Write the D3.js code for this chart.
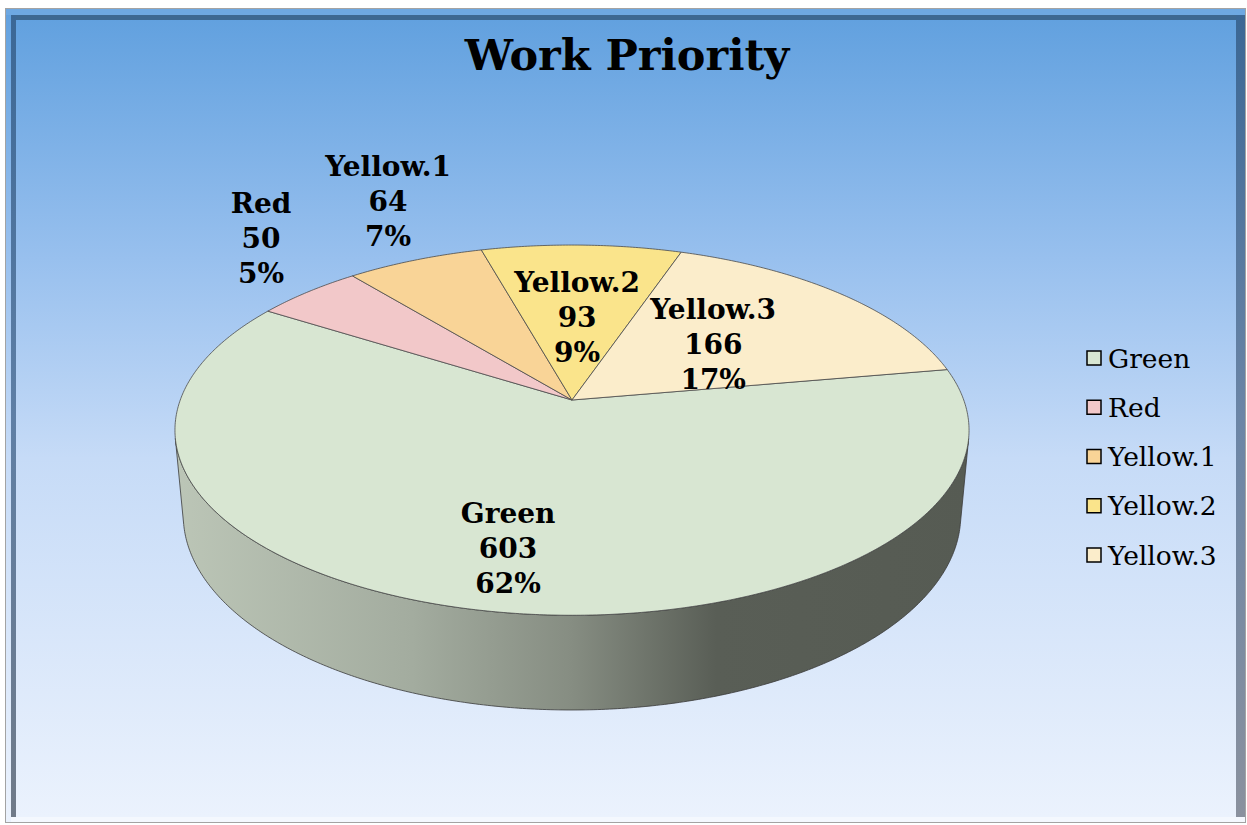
<!DOCTYPE html>
<html>
<head>
<meta charset="utf-8">
<script src="https://cdn.jsdelivr.net/npm/d3@7"></script>
<style>
  body { margin: 0; background: #fff; }
  text { font-family: "DejaVu Serif", "Liberation Serif", serif; }
</style>
</head>
<body>
<div id="chart"></div>
<script>
// Chart data
const categories = ["Green", "Red", "Yellow.1", "Yellow.2", "Yellow.3"];
const values = [603, 50, 64, 93, 166];
const percentLabels = ["62%", "5%", "7%", "9%", "17%"];
const palette = ["#d8e6d2", "#f2c8c9", "#f9d497", "#fae48b", "#fbedcb"];

const W = 1247, H = 825;
const color = d3.scaleOrdinal(categories, palette);

// 3D pie projection settings
const cx = 572, cy = 400;          // screen position of pie centre (top face)
const focal = 2135, camDist = 5.45; // perspective
const sinT = 0.46, cosT = Math.sqrt(1 - sinT * sinT);
const depthH = 0.2465;              // thickness relative to radius
const startDeg = 80;

function proj(a, k, z) {
  const X = k * Math.sin(a), Y = k * Math.cos(a), Z = z;
  const depth = camDist + Y * cosT - Z * sinT;
  return [cx + focal * X / depth, cy - focal * (Y * sinT + Z * cosT) / depth];
}

const svg = d3.select("#chart").append("svg")
    .attr("width", W)
    .attr("height", H);

const defs = svg.append("defs");

// background gradient
const bg = defs.append("linearGradient").attr("id", "bg")
    .attr("x1", 0).attr("y1", 0).attr("x2", 0).attr("y2", 1);
[[0, "#62a1df"], [0.3, "#98c0ee"], [0.55, "#c6dbf7"], [1, "#ebf2fd"]]
  .forEach(([o, c]) => bg.append("stop").attr("offset", o).attr("stop-color", c));

const leftBand = defs.append("linearGradient").attr("id", "leftBand")
    .attr("x1", 0).attr("y1", 0).attr("x2", 0).attr("y2", 1);
[[0, "#3b6795"], [0.5, "#5f7fa5"], [1, "#707a88"]]
  .forEach(([o, c]) => leftBand.append("stop").attr("offset", o).attr("stop-color", c));

const rightBand = defs.append("linearGradient").attr("id", "rightBand")
    .attr("x1", 0).attr("y1", 0).attr("x2", 0).attr("y2", 1);
[[0, "#3b6795"], [0.5, "#6b85a6"], [1, "#8a919e"]]
  .forEach(([o, c]) => rightBand.append("stop").attr("offset", o).attr("stop-color", c));

// frame
svg.append("rect")
    .attr("x", 5.5).attr("y", 8.5).attr("width", 1240).attr("height", 814)
    .attr("fill", "url(#bg)").attr("stroke", "#a3a3a3");
svg.append("rect")
    .attr("x", 6).attr("y", 9).attr("width", 1239).attr("height", 6)
    .attr("fill", "#6ea8e2");
svg.append("rect")
    .attr("x", 11).attr("y", 15).attr("width", 1226).attr("height", 5)
    .attr("fill", "#3d6892");
svg.append("rect")
    .attr("x", 11).attr("y", 15).attr("width", 5).attr("height", 802)
    .attr("fill", "url(#leftBand)");
svg.append("rect")
    .attr("x", 1236).attr("y", 15).attr("width", 9).attr("height", 802)
    .attr("fill", "url(#rightBand)");
svg.append("rect")
    .attr("x", 16).attr("y", 20).attr("width", 1220).attr("height", 797)
    .attr("fill", "url(#bg)");
svg.append("rect")
    .attr("x", 11).attr("y", 817).attr("width", 1234).attr("height", 5)
    .attr("fill", "#f4f8fe");

// title
svg.append("text")
    .attr("x", 627).attr("y", 70)
    .attr("text-anchor", "middle")
    .attr("font-size", 43).attr("font-weight", "bold")
    .text("Work Priority");

// pie layout
const pie = d3.pie().sort(null)
    .startAngle(startDeg * Math.PI / 180)
    .endAngle(startDeg * Math.PI / 180 + 2 * Math.PI);
const arcs = pie(values).map((d, i) => ({...d, name: categories[i], pct: percentLabels[i]}));

const line = d3.line();
const step = Math.PI / 360;
function arcPoints(a0, a1, k, z) {
  const n = Math.max(2, Math.ceil((a1 - a0) / step));
  return d3.range(n + 1).map(j => proj(a0 + (a1 - a0) * j / n, k, z));
}

// visible part of the outer wall: outward normal faces the camera
const visLim = Math.acos(-1 / (camDist * cosT));
const visRanges = [[visLim, 2 * Math.PI - visLim], [visLim + 2 * Math.PI, 4 * Math.PI - visLim]];

const walls = svg.append("g");
arcs.forEach((d, i) => {
  const base = d3.color(color(d.name));
  const gid = "wall" + i;
  const g = defs.append("linearGradient").attr("id", gid)
      .attr("gradientUnits", "userSpaceOnUse")
      .attr("x1", cx - 400).attr("y1", 0).attr("x2", cx + 400).attr("y2", 0);
  [[0, 0.4], [0.3, 0.8], [0.5, 1.35], [0.68, 2.5], [1, 2.6]]
    .forEach(([o, k]) => {
      const c = base.darker(k);
      // pull shade toward grey, as in the picture
      const gr = (c.r + c.g + c.b) / 3;
      g.append("stop").attr("offset", o)
        .attr("stop-color", d3.rgb(c.r * 0.9 + gr * 0.1, c.g * 0.9 + gr * 0.1, c.b * 0.9 + gr * 0.1));
    });
  visRanges.forEach(([v0, v1]) => {
    const a0 = Math.max(d.startAngle, v0), a1 = Math.min(d.endAngle, v1);
    if (a1 <= a0) return;
    const pts = arcPoints(a0, a1, 1, 0).concat(arcPoints(a0, a1, 1, -depthH).reverse());
    walls.append("path")
        .attr("d", line(pts) + "Z")
        .attr("fill", `url(#${gid})`)
        .attr("stroke", "#3a3a3a").attr("stroke-width", 0.8);
  });
});

// top face slices
svg.append("g").selectAll("path")
  .data(arcs)
  .join("path")
    .attr("d", d => line([proj(0, 0, 0)].concat(arcPoints(d.startAngle, d.endAngle, 1, 0))) + "Z")
    .attr("fill", d => color(d.name))
    .attr("stroke", "#4a4a4a").attr("stroke-width", 0.8);

// data labels
const lh = 35;
const labels = svg.append("g")
    .attr("font-size", 28).attr("font-weight", "bold")
    .attr("text-anchor", "middle");
arcs.forEach(d => {
  const share = (d.endAngle - d.startAngle) / (2 * Math.PI);
  const mid = (d.startAngle + d.endAngle) / 2;
  const outside = share < 0.08;
  const k = outside ? 1.2 : (share > 0.5 ? 0.74 : 0.5);
  const [x, y] = proj(mid, k, 0);
  const y0 = outside ? y - 2 * lh : y - lh;
  const t = labels.append("text").attr("dominant-baseline", "central");
  [d.name, d.value, d.pct].forEach((s, j) => {
    t.append("tspan").attr("x", x).attr("y", y0 + j * lh).text(s);
  });
});

// legend
const ly = d3.scalePoint(categories, [358, 555]);
const legend = svg.append("g").selectAll("g")
  .data(categories)
  .join("g")
    .attr("transform", d => `translate(1087,${ly(d)})`);
legend.append("rect")
    .attr("x", 0).attr("y", -7).attr("width", 14).attr("height", 14)
    .attr("fill", d => color(d))
    .attr("stroke", "#000").attr("stroke-width", 1.5);
legend.append("text")
    .attr("x", 21).attr("y", 0)
    .attr("dominant-baseline", "central")
    .attr("font-size", 26.5)
    .text(d => d);
</script>
</body>
</html>
